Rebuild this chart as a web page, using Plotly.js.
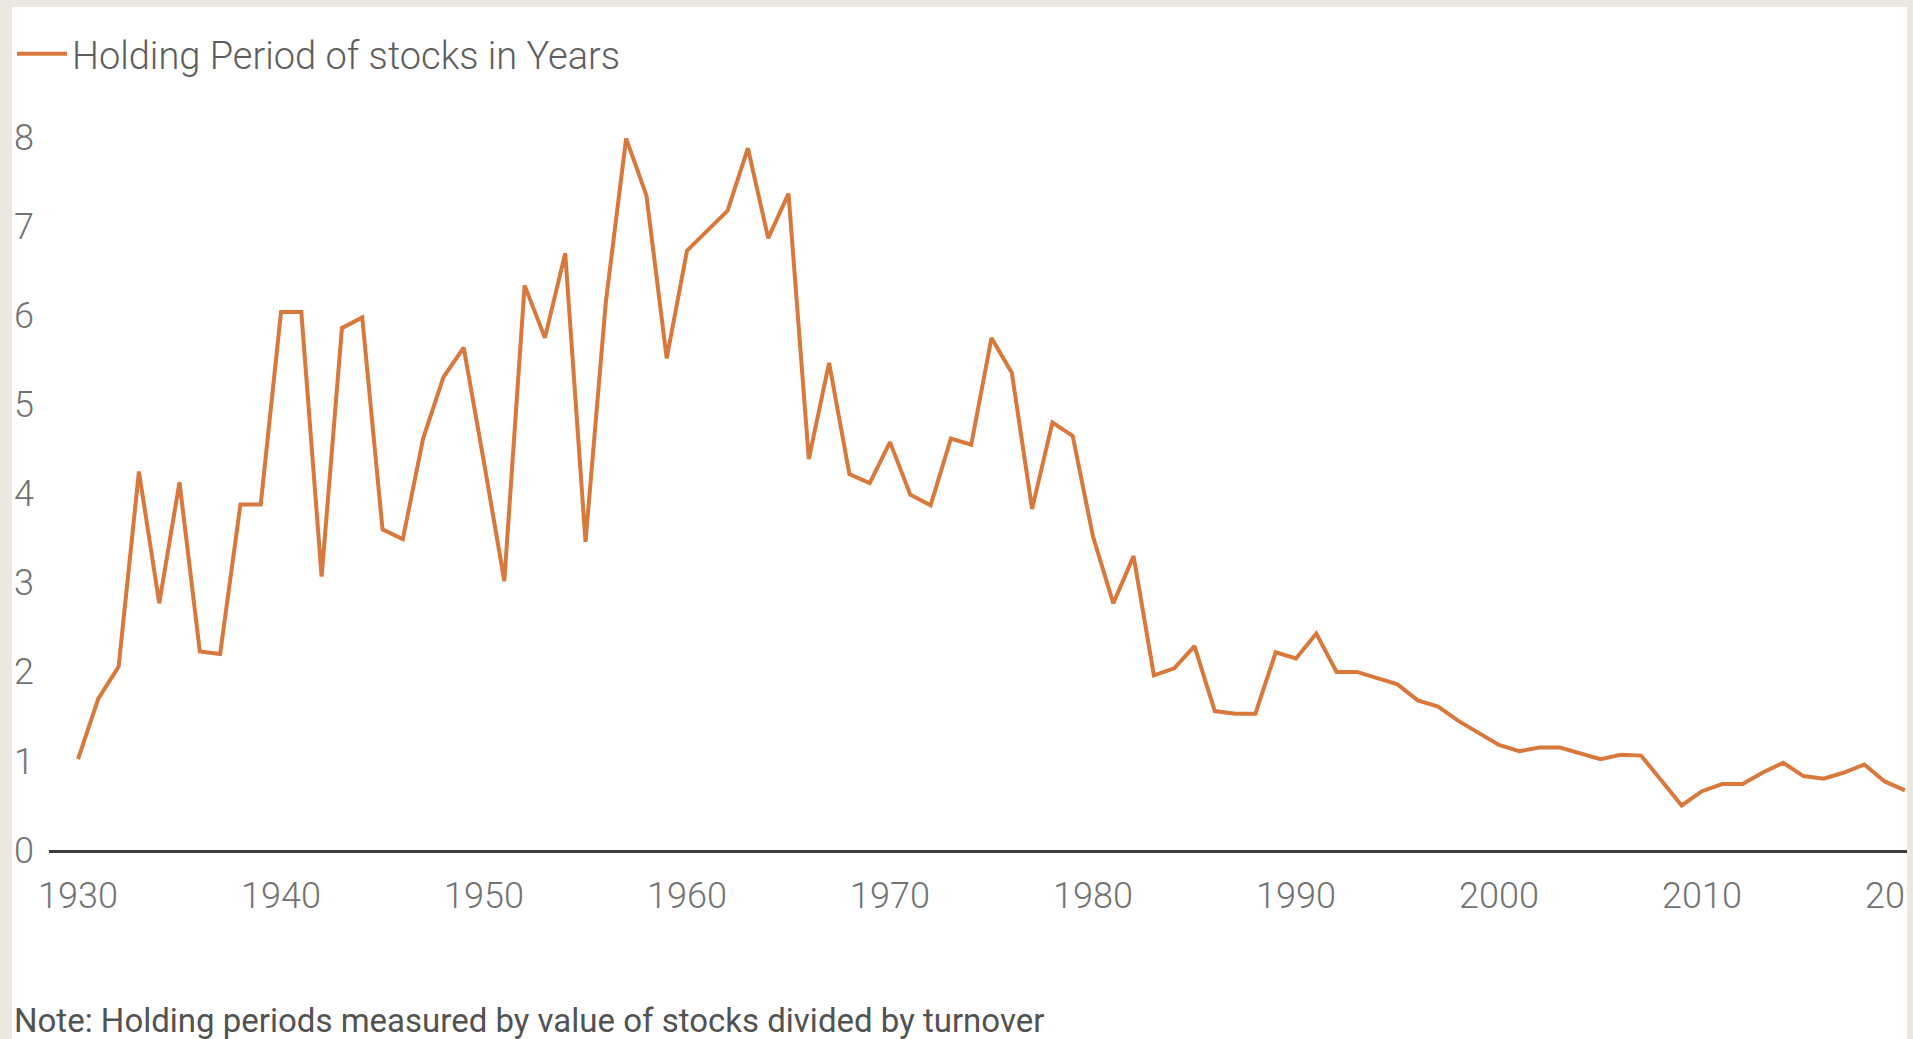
<!DOCTYPE html>
<html>
<head>
<meta charset="utf-8">
<script src="https://cdn.plot.ly/plotly-3.0.1.min.js"></script>
<style>
  html, body { margin: 0; padding: 0; width: 1913px; height: 1039px; overflow: hidden; background: #ebe8e1; }
  #wrap { position: absolute; left: 12px; top: 7px; width: 1895px; height: 1032px; overflow: hidden; background: #ffffff; }
  #chart { width: 1895px; height: 1032px; }
</style>
</head>
<body>
<div id="wrap"><div id="chart"></div></div>
<script>
const years = [
  1930,1931,1932,1933,1934,1935,1936,1937,1938,1939,
  1940,1941,1942,1943,1944,1945,1946,1947,1948,1949,
  1950,1951,1952,1953,1954,1955,1956,1957,1958,1959,
  1960,1961,1962,1963,1964,1965,1966,1967,1968,1969,
  1970,1971,1972,1973,1974,1975,1976,1977,1978,1979,
  1980,1981,1982,1983,1984,1985,1986,1987,1988,1989,
  1990,1991,1992,1993,1994,1995,1996,1997,1998,1999,
  2000,2001,2002,2003,2004,2005,2006,2007,2008,2009,
  2010,2011,2012,2013,2014,2015,2016,2017,2018,2019,
  2020
];
const holdingPeriodYears = [
  1.02,1.70,2.06,4.25,2.77,4.13,2.23,2.20,3.88,3.88,
  6.04,6.04,3.07,5.86,5.98,3.60,3.49,4.62,5.31,5.64,
  4.35,3.02,6.34,5.75,6.70,3.46,6.15,7.99,7.35,5.52,
  6.73,6.95,7.18,7.88,6.87,7.37,4.39,5.47,4.22,4.12,
  4.58,3.99,3.87,4.62,4.55,5.75,5.36,3.83,4.80,4.65,
  3.52,2.77,3.30,1.96,2.04,2.29,1.56,1.53,1.53,2.22,
  2.15,2.43,2.00,2.00,1.93,1.86,1.68,1.61,1.45,1.31,
  1.18,1.11,1.15,1.15,1.09,1.02,1.07,1.06,0.78,0.50,
  0.66,0.74,0.74,0.87,0.98,0.83,0.80,0.87,0.96,0.77,
  0.67
];
const xTickVals = [1930,1940,1950,1960,1970,1980,1990,2000,2010,2020];
const yTickVals = [0,1,2,3,4,5,6,7,8];
const seriesName = "Holding Period of stocks in Years";
const noteText = "Note: Holding periods measured by value of stocks divided by turnover";

const FONT = '"Liberation Sans Narrow", "Roboto", "Liberation Sans", sans-serif';

const trace = {
  x: years,
  y: holdingPeriodYears,
  type: 'scatter',
  mode: 'lines',
  name: seriesName,
  line: { color: '#d9783c', width: 4 },
  hoverinfo: 'x+y'
};

const layout = {
  width: 1895,
  height: 1032,
  margin: { l: 37, r: 0, t: 100, b: 189, pad: 0, autoexpand: false },
  paper_bgcolor: '#ffffff',
  plot_bgcolor: '#ffffff',
  showlegend: true,
  legend: {
    xref: 'container', yref: 'container',
    x: 0, y: 1 - 47/1032, xanchor: 'left', yanchor: 'middle',
    font: { family: FONT, size: 38, color: '#5e5e5e', weight: 300 },
    bgcolor: 'rgba(0,0,0,0)', borderwidth: 0,
    itemwidth: 50
  },
  xaxis: {
    range: [1928.57, 2020.1],
    tickmode: 'array', tickvals: xTickVals,
    showgrid: false, zeroline: false,
    showline: true, linecolor: '#3d3d3d', linewidth: 3,
    ticks: '', ticklabelstandoff: 12,
    ticklabeloverflow: 'allow',
    tickfont: { family: FONT, size: 36, color: '#727272', weight: 300 },
    fixedrange: true
  },
  yaxis: {
    range: [0, 743/89.06],
    tickmode: 'array', tickvals: yTickVals,
    showgrid: false, zeroline: false, showline: false,
    ticks: '', ticklabelstandoff: 14,
    tickfont: { family: FONT, size: 36, color: '#727272', weight: 300 },
    fixedrange: true
  },
  annotations: [{
    text: noteText,
    xref: 'paper', yref: 'paper',
    x: -37/1858, y: -(1013-843)/743,
    xanchor: 'left', yanchor: 'middle',
    showarrow: false,
    font: { family: FONT, size: 33, color: '#525252' }
  }]
};

Plotly.newPlot('chart', [trace], layout, { displayModeBar: false, staticPlot: true });
</script>
</body>
</html>
